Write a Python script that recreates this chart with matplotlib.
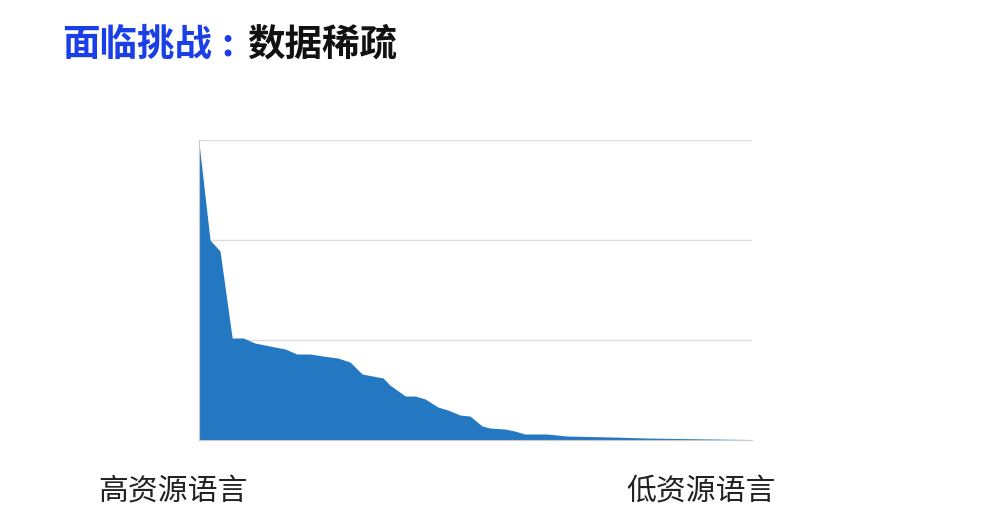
import matplotlib.pyplot as plt

plt.rcParams['font.family'] = ['Noto Sans CJK SC', 'DejaVu Sans']

# language rank position (percent of the axis) and relative data volume
rank = [0, 2.0, 3.8, 6.0, 8.0, 10.1, 12.8, 15.6, 17.7, 20.1, 22.4, 25.1, 27.3,
        29.5, 33.3, 34.5, 37.3, 39.1, 40.9, 43.2, 45.0, 47.2, 49.0, 51.2, 52.6,
        55.3, 57.1, 58.9, 62.9, 66.5, 74.9, 81.0, 92.9, 100]
volume = [2.97, 2.00, 1.89, 1.02, 1.02, 0.97, 0.94, 0.91, 0.86, 0.86, 0.84,
          0.82, 0.78, 0.66, 0.62, 0.55, 0.44, 0.44, 0.41, 0.33, 0.30, 0.25,
          0.24, 0.14, 0.12, 0.11, 0.09, 0.06, 0.06, 0.04, 0.03, 0.02, 0.01,
          0.005]

fig = plt.figure(figsize=(10.02, 5.29), dpi=100)
ax = fig.add_axes([0.1986, 0.1682, 0.5519, 0.5671])

ax.fill_between(rank, volume, 0, color='#2478c2', linewidth=0)
ax.set_xlim(0, 100)
ax.set_ylim(0, 3)
ax.set_yticks([1, 2, 3])
ax.grid(axis='y', color='#dcdcdc', linewidth=1)
ax.set_axisbelow(True)
ax.tick_params(left=False, bottom=False, labelleft=False, labelbottom=False)
for s in ['top', 'right']:
    ax.spines[s].set_visible(False)
ax.spines['left'].set_color('#c8c8c8')
ax.spines['bottom'].set_color('#c8c8c8')

# title
ty = 1 - 44 / 529
fig.text(62 / 1002, ty, '面临挑战', color='#1a3ee8',
         fontsize=27, fontweight='bold', va='center', ha='left')
fig.text(227 / 1002, ty, ':', color='#1a3ee8',
         fontsize=27, fontweight='bold', va='center', ha='center')
fig.text(247 / 1002, ty, '数据稀疏', color='#111111',
         fontsize=27, fontweight='bold', va='center', ha='left')

fig.text(98 / 1002, 1 - 491 / 529, '高资源语言', color='#222222',
         fontsize=21.5, va='center', ha='left')
fig.text(776 / 1002, 1 - 491 / 529, '低资源语言', color='#222222',
         fontsize=21.5, va='center', ha='right')

fig.savefig('out.png', dpi=100)
